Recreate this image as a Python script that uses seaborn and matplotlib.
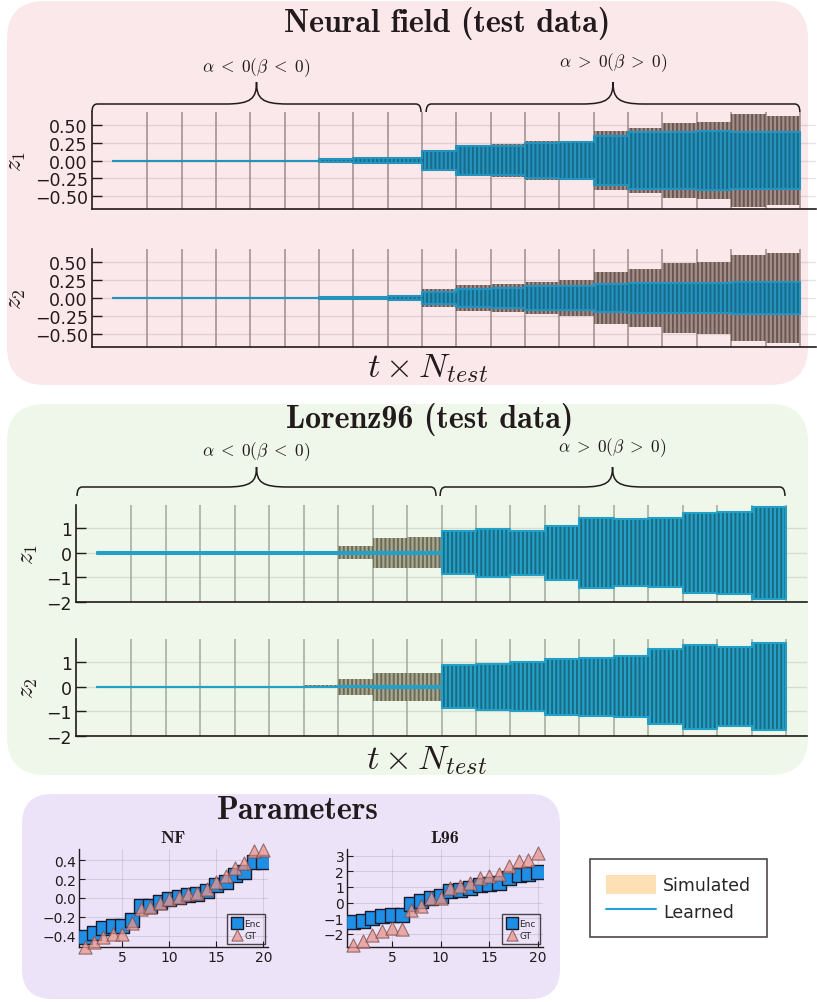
import numpy as np
import matplotlib
matplotlib.use('Agg')
import matplotlib.pyplot as plt
import matplotlib.transforms as mtransforms
import seaborn as sns
from matplotlib.patches import FancyBboxPatch, Patch, PathPatch
from matplotlib.lines import Line2D
from matplotlib.path import Path

# test trajectories: 20 segments, oscillation half-amplitude per segment
segment_edges = np.arange(0, 21)

nf_z1_sim = [0, 0, 0, 0, 0, 0, 0.03, 0.04, 0.05, 0.14, 0.22, 0.23, 0.27, 0.28, 0.41, 0.45, 0.52, 0.54, 0.65, 0.63]
nf_z1_learned = [0, 0, 0, 0, 0, 0, 0.025, 0.035, 0.04, 0.13, 0.20, 0.21, 0.25, 0.26, 0.35, 0.40, 0.40, 0.41, 0.40, 0.40]
nf_z2_sim = [0, 0, 0, 0, 0, 0, 0.015, 0.03, 0.035, 0.13, 0.18, 0.20, 0.22, 0.25, 0.36, 0.40, 0.48, 0.50, 0.60, 0.62]
nf_z2_learned = [0, 0, 0, 0, 0, 0, 0.01, 0.02, 0.03, 0.08, 0.13, 0.14, 0.17, 0.17, 0.19, 0.21, 0.21, 0.21, 0.22, 0.22]

l96_z1_sim = [0, 0, 0, 0, 0, 0, 0.05, 0.27, 0.60, 0.63, 0.82, 0.92, 0.86, 1.05, 1.35, 1.30, 1.33, 1.55, 1.60, 1.75]
l96_z1_learned = [0.03, 0.03, 0.03, 0.03, 0.03, 0.03, 0.03, 0.04, 0.05, 0.05, 0.87, 0.97, 0.90, 1.10, 1.43, 1.37, 1.40, 1.63, 1.67, 1.87]
l96_z2_sim = [0, 0, 0, 0, 0, 0, 0.07, 0.33, 0.57, 0.57, 0.82, 0.88, 0.95, 1.07, 1.12, 1.17, 1.45, 1.60, 1.52, 1.68]
l96_z2_learned = [0.01, 0.01, 0.01, 0.01, 0.01, 0.01, 0.01, 0.02, 0.04, 0.05, 0.87, 0.93, 1.00, 1.13, 1.18, 1.23, 1.53, 1.70, 1.60, 1.77]

# parameters
param_index = np.arange(1, 21)
nf_enc = [-0.41, -0.37, -0.32, -0.30, -0.30, -0.23, -0.09, -0.08, -0.04, -0.015, 0.01, 0.035, 0.04, 0.075, 0.14, 0.17, 0.24, 0.28, 0.385, 0.385]
nf_gt = [-0.52, -0.47, -0.41, -0.38, -0.38, -0.26, -0.12, -0.10, -0.05, -0.015, 0.01, 0.04, 0.055, 0.10, 0.175, 0.23, 0.32, 0.375, 0.495, 0.51]
l96_enc = [-1.28, -1.17, -1.00, -0.89, -0.79, -0.79, -0.11, 0.10, 0.32, 0.43, 0.74, 0.79, 0.96, 1.13, 1.17, 1.28, 1.60, 1.77, 1.81, 1.96]
l96_gt = [-2.70, -2.45, -2.06, -1.81, -1.66, -1.70, -0.49, -0.21, 0.26, 0.32, 0.96, 1.06, 1.28, 1.60, 1.70, 1.81, 2.34, 2.66, 2.70, 3.19]

sns.set_style('ticks')
plt.rcParams['font.family'] = ['DejaVu Sans']
plt.rcParams['mathtext.fontset'] = 'cm'
plt.rcParams['hatch.linewidth'] = 1.4

W, H = 817, 1003
fig = plt.figure(figsize=(W / 100, H / 100), dpi=100)

dark = '#221a1c'


def rect(x0, y0, x1, y1):
    return [x0 / W, 1 - y1 / H, (x1 - x0) / W, (y1 - y0) / H]


def bg_box(x0, y0, x1, y1, color, r):
    p = FancyBboxPatch((x0 / 100, (H - y1) / 100), (x1 - x0) / 100, (y1 - y0) / 100,
                       boxstyle=f'round,pad=0,rounding_size={r / 100}',
                       transform=fig.dpi_scale_trans, fc=color, ec='none', zorder=-10)
    fig.add_artist(p)


bg_box(7, 2, 808, 386, '#fbe8ea', 38)
bg_box(7, 405, 808, 776, '#eef7e9', 38)
bg_box(22, 795, 560, 1000, '#ece3f8', 30)


def series_panel(r, sim, learned, sim_cols, lrn_cols, vline_color, xlim, ylim, yticks, zlabel, zlabel_x):
    ax = fig.add_axes(r)
    ax.set_facecolor('none')
    for k in segment_edges[1:]:
        ax.axvline(k, color=vline_color, lw=1.1, zorder=1)
    s = np.append(sim, sim[-1])
    l = np.append(learned, learned[-1])
    ax.fill_between(segment_edges, -s, s, step='post', fc=sim_cols[0], ec=sim_cols[1], lw=0, hatch='||||', zorder=2)
    ax.fill_between(segment_edges, -l, l, step='post', fc=lrn_cols[0], ec=lrn_cols[1], lw=0, hatch='||||', zorder=3)
    ax.fill_between(segment_edges, -l, l, step='post', fc='none', ec=lrn_cols[0], lw=1.5, zorder=4)
    ax.set_xlim(*xlim)
    ax.set_ylim(*ylim)
    ax.set_xticks([])
    ax.set_yticks(yticks)
    ax.yaxis.grid(True, color='k', alpha=0.1, lw=1)
    ax.tick_params(axis='y', direction='in', length=7, width=1, labelsize=12.5, pad=3, colors=dark)
    for side in ['top', 'right']:
        ax.spines[side].set_visible(False)
    for side in ['left', 'bottom']:
        ax.spines[side].set_color(dark)
        ax.spines[side].set_linewidth(1.2)
    ax.set_ylabel(zlabel, fontsize=18, color=dark)
    ax.yaxis.set_label_coords(zlabel_x, 0.5)
    return ax


def brace(ax, x0, x1, y_line, y_end, y_tip, y_text, text):
    tr = mtransforms.blended_transform_factory(ax.transData, fig.transFigure)
    yb, yd, yc = 1 - y_line / H, 1 - y_end / H, 1 - y_tip / H
    xm = (x0 + x1) / 2
    w = 0.9
    verts = [(x0, yd), (x0, yb), (x0 + 0.15, yb), (xm - w, yb),
             (xm - 0.15, yb), (xm, yb + (yc - yb) * 0.25), (xm, yc),
             (xm, yb + (yc - yb) * 0.25), (xm + 0.15, yb), (xm + w, yb),
             (x1 - 0.15, yb), (x1, yb), (x1, yd)]
    codes = [Path.MOVETO, Path.CURVE3, Path.CURVE3, Path.LINETO,
             Path.CURVE4, Path.CURVE4, Path.CURVE4,
             Path.CURVE4, Path.CURVE4, Path.CURVE4,
             Path.LINETO, Path.CURVE3, Path.CURVE3]
    fig.add_artist(PathPatch(Path(verts, codes), transform=tr, fc='none', ec=dark, lw=1.1))
    fig.text(xm, 1 - y_text / H, text, transform=tr, ha='center', va='center', fontsize=12.5, color=dark)


title_kw = dict(ha='center', va='center', fontsize=23, color=dark, family='cmb10')
nf_cols = ('#a48e8a', '#6a5650')
nf_lrn = ('#2493bd', '#186a8a')
l96_cols = ('#a9a992', '#6a6a55')
l96_lrn = ('#23a0c8', '#1a6a82')

# Neural field
fig.text(447 / W, 1 - 23 / H, 'Neural field (test data)', **title_kw)
nf_xlim = (-0.61, 20.47)
nf_ylim = (-0.68, 0.68)
nf_ticks = [-0.5, -0.25, 0, 0.25, 0.5]
ax1 = series_panel(rect(92, 113, 816, 210), nf_z1_sim, nf_z1_learned, nf_cols, nf_lrn, '#9c8c8c', nf_xlim, nf_ylim, nf_ticks, r'$z_1$', -0.088)
ax2 = series_panel(rect(92, 250, 816, 348), nf_z2_sim, nf_z2_learned, nf_cols, nf_lrn, '#9c8c8c', nf_xlim, nf_ylim, nf_ticks, r'$z_2$', -0.088)
brace(ax1, nf_xlim[0], 8.97, 105, 113, 83, 68, r'$\alpha\;<\;0(\beta\;<\;0)$')
brace(ax1, 9.12, 20, 105, 113, 83, 63, r'$\alpha\;>\;0(\beta\;>\;0)$')
ax2.text(0.463, -0.2, r'$t \times N_{test}$', transform=ax2.transAxes, ha='center', va='center', fontsize=25, color=dark)

# Lorenz96
fig.text(430 / W, 1 - 419 / H, 'Lorenz96 (test data)', **title_kw)
l96_xlim = (-0.61, 20.61)
l96_ylim = (-2.0, 1.94)
l96_ticks = [-2, -1, 0, 1]
ax3 = series_panel(rect(76, 506, 807, 603), l96_z1_sim, l96_z1_learned, l96_cols, l96_lrn, '#a3aa9c', l96_xlim, l96_ylim, l96_ticks, r'$z_1$', -0.049)
ax4 = series_panel(rect(76, 640, 807, 737), l96_z2_sim, l96_z2_learned, l96_cols, l96_lrn, '#a3aa9c', l96_xlim, l96_ylim, l96_ticks, r'$z_2$', -0.049)
brace(ax3, -0.58, 9.84, 488, 497, 468, 452, r'$\alpha\;<\;0(\beta\;<\;0)$')
brace(ax3, 9.96, 19.97, 488, 497, 468, 448, r'$\alpha\;>\;0(\beta\;>\;0)$')
ax4.text(0.48, -0.236, r'$t \times N_{test}$', transform=ax4.transAxes, ha='center', va='center', fontsize=25, color=dark)

# Parameters
fig.text(298 / W, 1 - 811 / H, 'Parameters', **title_kw)


def param_panel(r, enc, gt, title, ylim, yticks):
    ax = fig.add_axes(r)
    ax.set_facecolor('none')
    sns.scatterplot(x=param_index, y=enc, marker='s', s=95, color='#1f8fe6', edgecolor='#1a1a2a', linewidth=1, ax=ax, label='Enc', zorder=3)
    sns.scatterplot(x=param_index, y=gt, marker='^', s=90, color='#e8968e', edgecolor='#7a4a4a', linewidth=0.8, alpha=0.75, ax=ax, label='GT', zorder=4, clip_on=False)
    ax.set_xlim(0.4, 20.5)
    ax.set_ylim(*ylim)
    ax.set_xticks([5, 10, 15, 20])
    ax.set_yticks(yticks)
    ax.grid(True, color='k', alpha=0.1, lw=0.8)
    ax.tick_params(direction='in', length=4, width=0.8, labelsize=10, pad=2, colors=dark)
    for side in ['top', 'right']:
        ax.spines[side].set_visible(False)
    for side in ['left', 'bottom']:
        ax.spines[side].set_color(dark)
        ax.spines[side].set_linewidth(1)
    ax.set_title(title, fontsize=13, color=dark, pad=5, family='cmb10')
    leg = ax.legend(loc='lower right', fontsize=6.5, markerscale=0.85, frameon=True, fancybox=False,
                    edgecolor=dark, borderpad=0.5, handletextpad=0.15, labelspacing=0.35, handlelength=1.3,
                    borderaxespad=0.3)
    leg.get_frame().set_linewidth(1)
    leg.get_frame().set_facecolor('none')
    return ax


param_panel(rect(79, 850, 268, 948), nf_enc, nf_gt, 'NF', (-0.52, 0.52), [-0.4, -0.2, 0.0, 0.2, 0.4])
param_panel(rect(347, 850, 543, 948), l96_enc, l96_gt, 'L96', (-2.85, 3.43), [-2, -1, 0, 1, 2, 3])

handles = [Patch(fc='#fde0b4', ec='none', label='Simulated'),
           Line2D([], [], color='#22a4dc', lw=1.5, label='Learned')]
leg = fig.legend(handles=handles, loc='upper left', bbox_to_anchor=(590 / W, 1 - 860 / H), fontsize=12.5,
                 frameon=True, fancybox=False, edgecolor=dark, handlelength=2.9, handleheight=1.3,
                 borderpad=0.9, labelspacing=0.45, handletextpad=0.4, borderaxespad=0)
leg.get_frame().set_linewidth(1.2)

fig.savefig('out.png', dpi=100)
